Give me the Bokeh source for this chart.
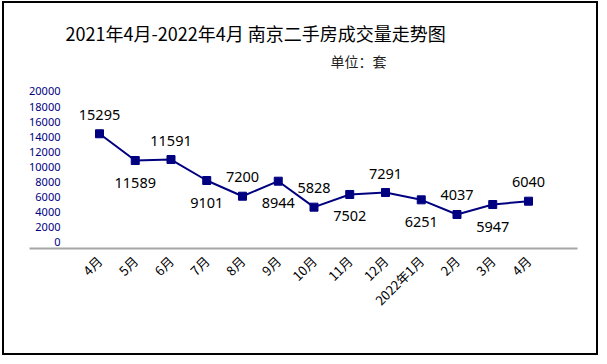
import math
from bokeh.plotting import figure
from bokeh.models import ColumnDataSource, FixedTicker, Range1d, Title
from bokeh.core.properties import value
from bokeh.embed import file_html
from bokeh.resources import INLINE

# ---- data ----
months = ["4月", "5月", "6月", "7月", "8月", "9月", "10月", "11月", "12月",
          "2022年1月", "2月", "3月", "4月"]
# plotted positions
volume = [14400, 10860, 10990, 8210, 6130, 8120, 4680, 6360, 6620, 5650, 3710, 5030, 5470]
# data-label texts printed on the chart
volume_labels = ["15295", "11589", "11591", "9101", "7200", "8944", "5828",
                 "7502", "7291", "6251", "4037", "5947", "6040"]
y_ticks = list(range(0, 20001, 2000))
title_text = "2021年4月-2022年4月 南京二手房成交量走势图"
unit_text = "单位：套"

idx = list(range(len(months)))
src = ColumnDataSource(dict(x=idx, y=volume, lab=volume_labels))
above = ColumnDataSource(dict(x=idx[0::2], y=volume[0::2], lab=volume_labels[0::2]))
below = ColumnDataSource(dict(x=idx[1::2], y=volume[1::2], lab=volume_labels[1::2]))

NAVY = "#000080"

p = figure(width=596, height=354, output_backend="svg", toolbar_location=None,
           title=None,
           x_range=Range1d(-1.958, 13.371), y_range=Range1d(-795, 20397),
           min_border_left=25, min_border_right=23, min_border_top=85,
           min_border_bottom=109)
p.margin = (1, 0, 0, 2)
p.styles = {"border": "2px solid #000000"}
p.background_fill_color = "white"
p.border_fill_color = "white"
p.outline_line_color = None
p.grid.visible = False

p.line("x", "y", source=src, line_color=NAVY, line_width=2)
p.scatter("x", "y", source=src, marker="square", size=8, fill_color=NAVY, line_color=NAVY)

p.text("x", "y", text="lab", source=above, text_align="center", text_baseline="middle",
       y_offset=-19, text_font=value("Noto Sans"), text_font_size="14.5px", text_color="#000000")
p.text("x", "y", text="lab", source=below, text_align="center", text_baseline="middle",
       y_offset=22, text_font=value("Noto Sans"), text_font_size="14.5px", text_color="#000000")

# x axis
xa = p.xaxis[0]
xa.ticker = FixedTicker(ticks=idx)
xa.major_label_overrides = {i: m for i, m in zip(idx, months)}
xa.major_label_orientation = math.pi / 4
xa.major_tick_line_color = None
xa.minor_tick_line_color = None
xa.axis_line_color = "#a6a6a6"
xa.axis_line_width = 2
xa.major_label_text_font = "Noto Sans CJK SC"
xa.major_label_text_font_size = "13px"
xa.major_label_text_color = "#000000"
xa.major_label_standoff = 4

# y axis
ya = p.yaxis[0]
ya.ticker = FixedTicker(ticks=y_ticks)
ya.axis_line_color = None
ya.major_tick_line_color = None
ya.minor_tick_line_color = None
ya.major_tick_out = 0
ya.major_label_standoff = -31
ya.major_label_text_font = "Noto Sans"
ya.major_label_text_font_size = "11px"
ya.major_label_text_color = NAVY

p.add_layout(Title(text=unit_text, align="left", offset=301, standoff=36,
                   text_font="Noto Sans CJK SC", text_font_size="14px",
                   text_font_style="normal", text_color="#222222"), "above")
p.add_layout(Title(text=title_text, align="left", offset=36, standoff=-31,
                   text_font="Noto Sans CJK SC", text_font_size="18px",
                   text_font_style="normal", text_color="#000000"), "above")

open("out.html", "w").write(file_html(p, INLINE))
